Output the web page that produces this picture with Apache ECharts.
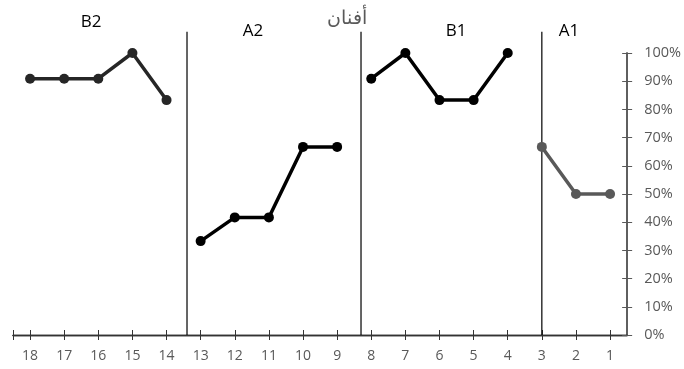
<!DOCTYPE html>
<html><head><meta charset="utf-8">
<script src="https://cdn.jsdelivr.net/npm/echarts@6/dist/echarts.min.js"></script>
<style>html,body{margin:0;padding:0;background:#fff}#c{width:684px;height:369px}</style>
</head><body><div id="c"></div>
<script>
const sessions = [18,17,16,15,14,13,12,11,10,9,8,7,6,5,4,3,2,1];
const b2X = [18,17,16,15,14];
const b2Y = [90.9,90.9,90.9,100,83.3];
const a2X = [13,12,11,10,9];
const a2Y = [33.3,41.7,41.7,66.7,66.7];
const b1X = [8,7,6,5,4];
const b1Y = [90.9,100,83.3,83.3,100];
const a1X = [3,2,1];
const a1Y = [66.7,50,50];
const phaseNames = ['B2','A2','B1','A1'];
const dividers = [13.4,8.3,3.0];
const dividerTop = 107.5;
const titleText = 'أفنان';

const font = '"Open Sans", "Noto Sans", sans-serif';
const pair = (xs, ys) => xs.map((x,i)=>[x, ys[i]]);
const mk = (name, xs, ys, color) => ({
  name, type:'line', data: pair(xs, ys), xAxisIndex:0, yAxisIndex:0,
  symbol:'circle', symbolSize:10, itemStyle:{color},
  lineStyle:{color, width:3.5}, z:5, clip:false, silent:true
});
const dividerData = [];
dividers.forEach(d => { dividerData.push([d,0],[d,dividerTop],'-'); });
const series = [
  {name:'div', type:'line', data:dividerData, symbol:'none', clip:false, silent:true, z:2,
   connectNulls:false, lineStyle:{color:'#000000', width:1.2}},
  mk('B2', b2X, b2Y, '#262626'),
  mk('A2', a2X, a2Y, '#000000'),
  mk('B1', b1X, b1Y, '#000000'),
  mk('A1', a1X, a1Y, '#595959')
];

const grid = {left:13, right:56, top:53, bottom:34};
const xBase = {
  type:'value', min:0.5, max:18.5, inverse:true, position:'bottom', gridIndex:0,
  splitLine:{show:false},
  axisLine:{show:true, lineStyle:{color:'#333333', width:1.3}},
};
const yBase = {
  type:'value', min:0, max:100, interval:10, position:'right', gridIndex:0,
  splitLine:{show:false},
  axisLine:{show:true, lineStyle:{color:'#595959', width:1.6}},
};
const chart = echarts.init(document.getElementById('c'));
chart.setOption({
  animation:false,
  backgroundColor:'#fff',
  grid,
  xAxis:[
    Object.assign({}, xBase, {
      axisTick:{show:true, inside:false, length:5, customValues:sessions.concat([18.5]), lineStyle:{color:'#333333'}},
      axisLabel:{show:true, customValues:sessions, margin:14, color:'#595959', fontSize:14, fontFamily:font}
    }),
    Object.assign({}, xBase, {
      axisTick:{show:true, inside:true, length:5, customValues:sessions.concat([18.5]), lineStyle:{color:'#333333'}},
      axisLabel:{show:false}
    })
  ],
  yAxis:[
    Object.assign({}, yBase, {
      axisTick:{show:true, inside:false, length:5, lineStyle:{color:'#595959'}},
      axisLabel:{show:true, margin:17, color:'#595959', fontSize:14.5, fontFamily:font, formatter:v=>v+'%'}
    }),
    Object.assign({}, yBase, {
      axisTick:{show:true, inside:true, length:5, lineStyle:{color:'#595959'}},
      axisLabel:{show:false}
    })
  ],
  graphic:[
    {type:'text', x:347, y:9, style:{text:titleText, fill:'#595959', font:'19px '+font, align:'center'}},
    {type:'text', x:91, y:14, style:{text:phaseNames[0], fill:'#000', font:'17px '+font, align:'center'}},
    {type:'text', x:253, y:23, style:{text:phaseNames[1], fill:'#000', font:'17px '+font, align:'center'}},
    {type:'text', x:456, y:23, style:{text:phaseNames[2], fill:'#000', font:'17px '+font, align:'center'}},
    {type:'text', x:569, y:23, style:{text:phaseNames[3], fill:'#000', font:'17px '+font, align:'center'}}
  ],
  series
});
</script></body></html>
